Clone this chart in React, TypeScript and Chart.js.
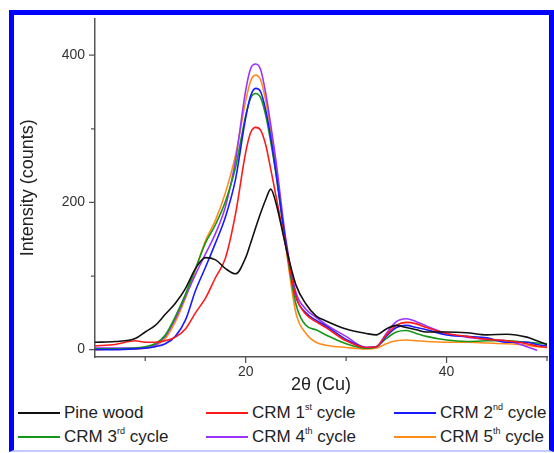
import React, { useEffect, useRef } from "react";
import { Chart, registerables } from "chart.js";

Chart.register(...registerables);

// 2θ positions (degrees) at which intensities were read
const twoTheta = [5, 7, 9, 10, 11, 12, 13, 14, 15, 16, 17, 18, 19, 20, 20.5, 21, 21.5, 22, 22.5, 23, 24, 25, 26, 27, 28, 30, 32, 33, 34, 35, 36, 37, 38, 40, 42, 44, 46, 48, 49, 50];

const pineWood = [10, 11, 15, 24, 33, 48, 63, 83, 110, 125, 122, 110, 103, 125, 145, 166, 186, 204, 218, 200, 140, 88, 62, 46, 39, 28, 22, 20, 28, 33, 30, 27, 24, 24, 23, 20, 21, 17, 12, 7];
const crm1 = [5, 7, 12, 10, 10, 12, 17, 28, 50, 70, 98, 125, 185, 268, 295, 302, 298, 278, 245, 210, 140, 72, 48, 38, 30, 12, 3, 4, 20, 33, 37, 35, 30, 22, 18, 14, 12, 8, 5, 3];
const crm2 = [0, 0, 1, 2, 4, 8, 18, 40, 80, 112, 145, 181, 232, 315, 345, 355, 350, 325, 288, 242, 145, 72, 50, 40, 32, 14, 3, 4, 18, 30, 33, 30, 27, 20, 18, 16, 10, 10, 7, 5];
const crm3 = [1, 1, 2, 4, 8, 20, 45, 75, 110, 145, 170, 202, 248, 318, 342, 348, 342, 318, 282, 240, 142, 62, 33, 27, 20, 8, 2, 4, 15, 24, 26, 22, 18, 13, 11, 12, 12, 10, 9, 8];
const crm4 = [2, 2, 2, 3, 6, 18, 42, 72, 102, 130, 158, 195, 258, 352, 382, 388, 380, 348, 305, 258, 150, 78, 55, 44, 34, 18, 3, 4, 22, 38, 42, 38, 32, 22, 17, 14, 12, 4, -1, null];
const crm5 = [0, 1, 1, 2, 5, 15, 38, 70, 108, 148, 176, 214, 265, 338, 365, 373, 366, 338, 298, 250, 140, 50, 22, 10, 6, 3, 1, 2, 8, 12, 13, 12, 11, 10, 10, 9, 8, 6, 4, 3];

const seriesNames = ["Pine wood", "CRM 1st cycle", "CRM 2nd cycle", "CRM 3rd cycle", "CRM 4th cycle", "CRM 5th cycle"];
const seriesColors = ["#111111", "#ff1a1a", "#1a1aff", "#169616", "#9933ff", "#ff8c1a"];
const seriesValues = [pineWood, crm1, crm2, crm3, crm4, crm5];

// legend text pieces (base, superscript, tail)
const legendParts: [string, string, string][] = [
  ["Pine wood", "", ""],
  ["CRM 1", "st", " cycle"],
  ["CRM 2", "nd", " cycle"],
  ["CRM 3", "rd", " cycle"],
  ["CRM 4", "th", " cycle"],
  ["CRM 5", "th", " cycle"],
];

const yMajorTicks = [0, 200, 400];
const yMinorTicks = [100, 300];
const xMajorTicks = [20, 40];
const xMinorTicks = [10, 30, 50];

const FONT = "'Liberation Sans', Arial, sans-serif";

const tickMarks = {
  id: "tickMarks",
  afterDraw(chart: any) {
    const { ctx, chartArea, scales } = chart;
    const x = scales.x;
    const y = scales.y;
    ctx.save();
    ctx.strokeStyle = "#555";
    ctx.lineWidth = 1.3;
    ctx.beginPath();
    yMajorTicks.forEach((v) => {
      const p = y.getPixelForValue(v);
      ctx.moveTo(chartArea.left - 6, p);
      ctx.lineTo(chartArea.left, p);
    });
    yMinorTicks.forEach((v) => {
      const p = y.getPixelForValue(v);
      ctx.moveTo(chartArea.left - 4, p);
      ctx.lineTo(chartArea.left, p);
    });
    xMajorTicks.forEach((v) => {
      const p = x.getPixelForValue(v);
      ctx.moveTo(p, chartArea.bottom);
      ctx.lineTo(p, chartArea.bottom + 6);
    });
    xMinorTicks.forEach((v) => {
      const p = x.getPixelForValue(v);
      ctx.moveTo(p, chartArea.bottom);
      ctx.lineTo(p, chartArea.bottom + 4);
    });
    ctx.stroke();
    ctx.restore();
  },
};

function XrdChart() {
  const ref = useRef<HTMLCanvasElement | null>(null);
  useEffect(() => {
    if (!ref.current) return;
    const chart = new Chart(ref.current, {
      type: "line",
      data: {
        datasets: seriesValues.map((vals, i) => ({
          label: seriesNames[i],
          data: twoTheta.map((t, k) => ({ x: t, y: vals[k] as any })),
          borderColor: seriesColors[i],
          backgroundColor: seriesColors[i],
          borderWidth: 1.6,
          pointRadius: 0,
          cubicInterpolationMode: "monotone" as const,
          fill: false,
          spanGaps: false,
        })),
      },
      options: {
        responsive: false,
        animation: false,
        layout: { padding: { left: 0, right: 7, top: 17, bottom: 0 } },
        plugins: { legend: { display: false }, tooltip: { enabled: false } },
        scales: {
          x: {
            type: "linear",
            min: 5,
            max: 50,
            grid: { display: false, drawTicks: false },
            border: { display: true, color: "#555", width: 1.5 },
            ticks: {
              stepSize: 20,
              includeBounds: false,
              padding: 7,
              color: "#333",
              font: { family: FONT, size: 14 },
              callback: (v: any) => (xMajorTicks.includes(Number(v)) ? String(v) : ""),
            },
            title: {
              display: true,
              text: "2θ (Cu)",
              color: "#222",
              font: { family: FONT, size: 18 },
              padding: { top: 0, bottom: 4 },
            },
            afterFit: (s: any) => {
              s.height = 43;
            },
          },
          y: {
            type: "linear",
            min: -10,
            max: 450,
            grid: { display: false, drawTicks: false },
            border: { display: true, color: "#555", width: 1.5 },
            ticks: {
              stepSize: 200,
              includeBounds: false,
              padding: 10,
              color: "#333",
              font: { family: FONT, size: 14 },
              callback: (v: any) => (yMajorTicks.includes(Number(v)) ? String(v) : ""),
            },
            title: {
              display: true,
              text: "Intensity (counts)",
              color: "#222",
              font: { family: FONT, size: 18 },
              padding: { top: 17, bottom: 0 },
            },
            afterFit: (s: any) => {
              s.width = 95;
            },
          },
        },
      },
      plugins: [tickMarks],
    });
    return () => chart.destroy();
  }, []);
  return <canvas ref={ref} width={554} height={400} style={{ position: "absolute", left: 0, top: 0, width: 554, height: 400 }} />;
}

const legendPos = [
  { x: 18, y: 413 },
  { x: 206, y: 413 },
  { x: 394, y: 413 },
  { x: 18, y: 437 },
  { x: 206, y: 437 },
  { x: 394, y: 437 },
];

export default function App() {
  return (
    <div style={{ position: "fixed", left: 0, top: 0, width: 554, height: 453, background: "#fff", overflow: "hidden", fontFamily: FONT }}>
      <div
        style={{
          position: "absolute",
          left: 9,
          top: 10,
          width: 545,
          height: 442,
          boxSizing: "border-box",
          borderTop: "5px solid #0000ff",
          borderLeft: "5px solid #0000ff",
          borderRight: "5px solid #0000ff",
          borderBottom: "2px solid #c4ccff",
        }}
      />
      <XrdChart />
      {legendParts.map((p, i) => (
        <div
          key={i}
          style={{
            position: "absolute",
            left: legendPos[i].x,
            top: legendPos[i].y - 11,
            height: 22,
            display: "flex",
            alignItems: "center",
            whiteSpace: "nowrap",
            fontSize: 17,
            color: "#222",
          }}
        >
          <span style={{ display: "inline-block", width: 42, height: 2, background: seriesColors[i], marginRight: 4 }} />
          <span>
            {p[0]}
            {p[1] ? <sup style={{ fontSize: 9, verticalAlign: "top", position: "relative", top: -1 }}>{p[1]}</sup> : null}
            {p[2]}
          </span>
        </div>
      ))}
    </div>
  );
}
